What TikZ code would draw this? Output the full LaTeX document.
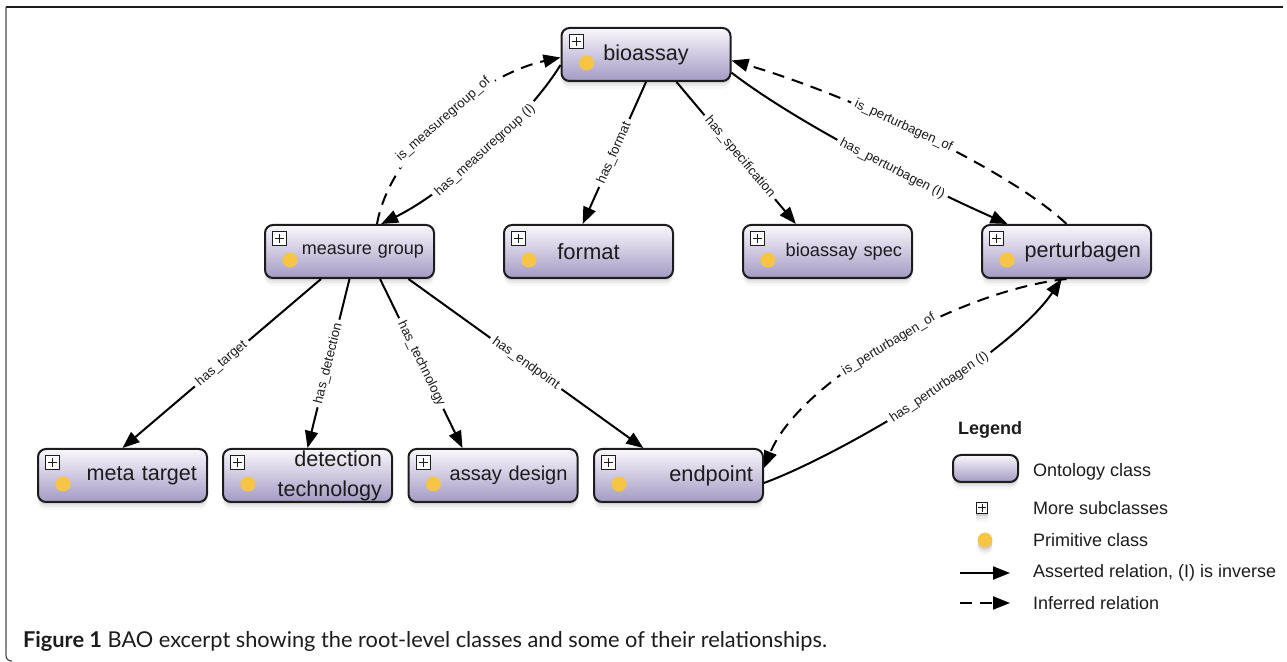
\documentclass[tikz,border=0pt]{standalone}
\usepackage{fontspec}
\setmainfont{Liberation Sans}
\newfontfamily\capfont{Lato}
\usetikzlibrary{arrows.meta,shadows}
\definecolor{ink}{RGB}{28,28,28}
\definecolor{boxtop}{RGB}{249,247,252}
\definecolor{boxbot}{RGB}{164,154,196}
\definecolor{primdot}{RGB}{247,197,70}
\tikzset{
  softshadow/.style={drop shadow={shadow xshift=0pt,shadow yshift=-1.2pt,opacity=.25},
                     drop shadow={shadow xshift=0pt,shadow yshift=-2.6pt,opacity=.12},
                     drop shadow={shadow xshift=0pt,shadow yshift=-4pt,opacity=.06}},
  clsbase/.style={draw=ink,line width=1pt,rounded corners=4pt,top color=boxtop,bottom color=boxbot,softshadow},
  cls/.style={clsbase,minimum width=84.5pt,minimum height=26.5pt,text width=74.5pt,
    inner xsep=5pt,inner ysep=0pt,align=right,text=ink,
    path picture={
      \draw[sharp corners,line width=.5pt,fill=white]
        ([shift={(3.8pt,-3.2pt)}]path picture bounding box.north west) rectangle +(7pt,-7pt);
      \draw[sharp corners,line width=.6pt]
        ([shift={(5pt,-6.7pt)}]path picture bounding box.north west) -- +(4.6pt,0pt)
        ([shift={(7.3pt,-4.4pt)}]path picture bounding box.north west) -- +(0pt,-4.6pt);
      \fill[primdot] ([shift={(12.5pt,-17.5pt)}]path picture bounding box.north west) circle (3.75pt);
    }},
  rel/.style={draw=black,line width=1pt,-{Triangle[length=8.5pt,width=6.5pt]}},
  inf/.style={rel,dash pattern=on 6pt off 4pt},
  lbl/.style={font=\fontsize{6.6}{7}\selectfont,fill=white,inner xsep=2pt,inner ysep=1pt,sloped,text=ink},
  legtxt/.style={anchor=west,font=\fontsize{9}{10}\selectfont,text=ink},
  plusbox/.style={draw=ink,fill=white,line width=.5pt,minimum size=5.6pt,inner sep=0pt,softshadow,
    path picture={\draw[line width=.5pt]
      ([xshift=-1.8pt]path picture bounding box.center) -- ([xshift=1.8pt]path picture bounding box.center)
      ([yshift=-1.8pt]path picture bounding box.center) -- ([yshift=1.8pt]path picture bounding box.center);}},
  dotmark/.style={circle,fill=primdot,minimum size=7.4pt,inner sep=0pt,softshadow},
}
\begin{document}
\begin{tikzpicture}[x=0.5pt,y=-0.5pt]
\useasboundingbox (0,0) rectangle (1287,662);
\draw[ink,line width=.9pt] (1283,7) -- (6,7);
\draw[ink!80,line width=.6pt] (6,7) -- (6,655) .. controls (6,659) and (8,661) .. (12,661);

\node[cls,align=center,font=\fontsize{10.8}{14}\selectfont] (bio) at (646,54.5) {bioassay};
\node[cls,font=\fontsize{9}{12}\selectfont] (mg) at (349.5,251.5) {measure group};
\node[cls,align=center,font=\fontsize{11}{14}\selectfont] (fmt) at (588.5,251.5) {format};
\node[cls,font=\fontsize{9.1}{12}\selectfont] (spec) at (827.5,251.5) {bioassay spec};
\node[cls,font=\fontsize{10.8}{14}\selectfont] (pert) at (1066.5,251.5) {perturbagen};
\node[cls,font=\fontsize{10.8}{14}\selectfont] (meta) at (122.5,475.5) {meta target};
\node[cls,font=\fontsize{10.8}{15}\selectfont] (det) at (307.5,475.5) {detection\\technology};
\node[cls,font=\fontsize{10}{13}\selectfont] (des) at (493,475.5) {assay design};
\node[cls,font=\fontsize{10.9}{14}\selectfont] (endp) at (678.5,475.5) {endpoint};

\draw[rel] (bio.187) .. controls (530,115) and (450,190) .. node[lbl,pos=.5] {has\_measuregroup (I)} (mg.41);
\draw[inf] (mg.45) .. controls (390,150) and (480,75) .. node[lbl,pos=.5] {is\_measuregroup\_of} (bio.182);
\draw[rel] (bio.270) -- node[lbl] {has\_format} (fmt.102);
\draw[rel] (bio.-42) -- node[lbl,pos=.53] {has\_specification} (spec.139);
\draw[rel] (bio.-12) .. controls (800,125) and (920,185) .. node[lbl,pos=.6] {has\_perturbagen (I)} (pert.155);
\draw[inf] (pert.north) .. controls (1010,170) and (850,95) .. node[lbl,pos=.55] {is\_perturbagen\_of} (bio.-4);

\draw[rel] (mg.224) -- node[lbl] {has\_target} (meta.north);
\draw[rel] (mg.south) -- node[lbl] {has\_detection} (det.north);
\draw[rel] (mg.-42) -- node[lbl] {has\_technology} (des.138);
\draw[rel] (mg.-25) -- node[lbl] {has\_endpoint} (endp.142);

\draw[inf] (pert.south) .. controls (960,290) and (800,380) .. node[lbl,pos=.5] {is\_perturbagen\_of} (endp.5);
\draw[rel] (endp.-5) .. controls (840,455) and (1010,355) .. node[lbl,pos=.55] {has\_perturbagen (I)} (pert.-100);

\node[anchor=west,font=\bfseries\fontsize{9}{10}\selectfont,text=ink] (lgtitle) at (951,430) {Legend};
\node[clsbase,minimum width=32.5pt,minimum height=13.5pt,inner sep=0pt] (lgcls) at (985.5,468.5) {};
\node[legtxt] (lgclstxt) at (1026,472) {Ontology class};
\node[plusbox] (lgplus) at (982,508) {};
\node[legtxt] (lgplustxt) at (1026,508) {More subclasses};
\node[dotmark] (lgdot) at (985,540) {};
\node[legtxt] (lgdottxt) at (1026,540) {Primitive class};
\coordinate (asA) at (960,573);
\coordinate (asB) at (1010,573);
\draw[rel] (asA) -- (asB);
\node[legtxt] (lgastxt) at (1026,573) {Asserted relation, (I) is inverse};
\coordinate (inA) at (960,603);
\coordinate (inB) at (1010,603);
\draw[inf] (inA) -- (inB);
\node[legtxt] (lgintxt) at (1026,603) {Inferred relation};

\node[anchor=base west,font=\capfont\fontsize{10.9}{12}\selectfont,text=ink] (caption) at (16,648)
  {\textbf{Figure 1} BAO excerpt showing the root-level classes and some of their relationships.};
\end{tikzpicture}
\end{document}
